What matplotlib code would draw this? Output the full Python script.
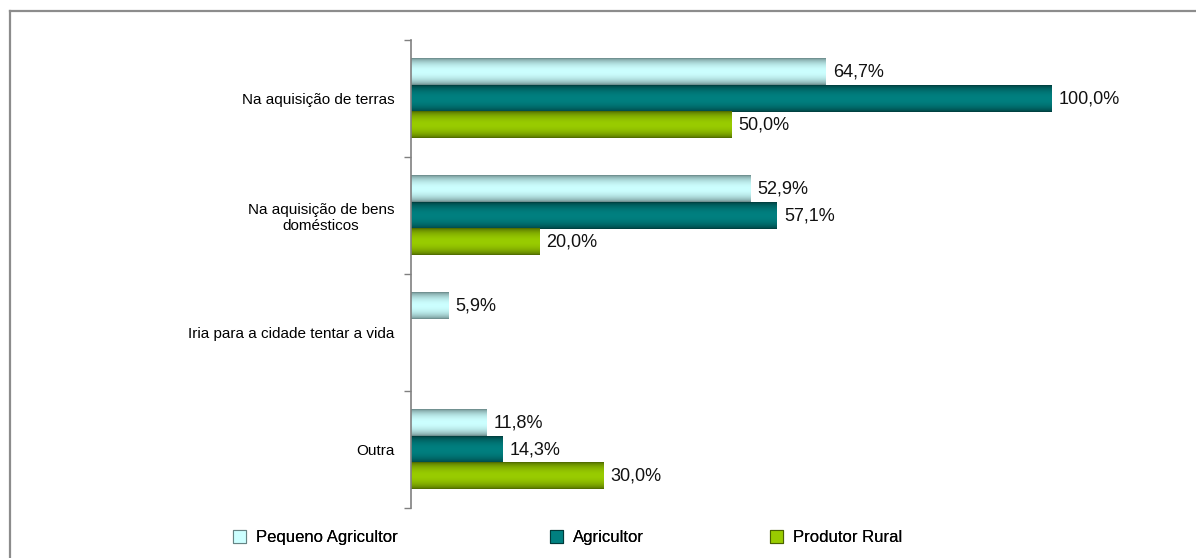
import numpy as np
import matplotlib
matplotlib.use("Agg")
import matplotlib.pyplot as plt
from matplotlib.colors import to_rgb
from matplotlib.lines import Line2D
from matplotlib.patches import Patch

plt.rcParams["font.family"] = ["Liberation Sans", "DejaVu Sans"]

categories = [
    "Na aquisição de terras",
    "Na aquisição de bens\ndomésticos",
    "Iria para a cidade tentar a vida",
    "Outra",
]
series_names = ["Pequeno Agricultor", "Agricultor", "Produtor Rural"]
pequeno = [64.7, 52.9, 5.9, 11.8]
agricultor = [100.0, 57.1, None, 14.3]
produtor = [50.0, 20.0, None, 30.0]

# (edge colour, centre colour) for the cylinder-like shading
shades = [("#668484", "#ccffff"), ("#003a3a", "#008080"), ("#4a6300", "#99cc00")]


def gradient(edge, centre, n=64):
    t = np.linspace(0, 1, n)
    f = np.sin(np.pi * t) ** 0.6
    e, c = np.array(to_rgb(edge)), np.array(to_rgb(centre))
    return (e[None, :] + (c - e)[None, :] * f[:, None])[:, None, :]


fig = plt.figure(figsize=(11.96, 5.58), dpi=100)
ax = fig.add_axes([0.3436, 0.0896, 0.643, 0.8387])

bar_h = 0.224
y = np.arange(len(categories))
for k, vals in enumerate([pequeno, agricultor, produtor]):
    offs = (k - 1) * bar_h
    for i, v in enumerate(vals):
        if v is None:
            continue
        rect = ax.barh(y[i] + offs, v, height=bar_h, color="none")[0]
        x0, y0 = rect.get_x(), rect.get_y()
        ax.imshow(gradient(*shades[k]), extent=(x0, x0 + rect.get_width(), y0 + rect.get_height(), y0),
                  aspect="auto", interpolation="bilinear", zorder=2)
        ax.text(v + 1.1, y[i] + offs, f"{v:.1f}%".replace(".", ","), va="center", ha="left",
                fontsize=13, color="#111111")

ax.set_xlim(0, 120)
ax.set_ylim(len(categories) - 0.5, -0.5)
ax.set_yticks(np.arange(-0.5, len(categories), 1.0))
ax.set_yticklabels([])
ax.set_yticks(y, minor=True)
ax.set_yticklabels(categories, minor=True, fontsize=11, multialignment="center")
ax.tick_params(axis="y", which="major", length=5, color="#808080", width=1)
ax.tick_params(axis="y", which="minor", length=0, pad=12)
ax.set_xticks([])
for s in ["top", "right", "bottom"]:
    ax.spines[s].set_visible(False)
ax.spines["left"].set_color("#808080")
ax.spines["left"].set_linewidth(1.2)

# outer chart frame (only top and left are inside the picture)
fig.add_artist(Line2D([10 / 1196, 1.0], [1 - 11 / 558, 1 - 11 / 558], color="#8c8c8c", lw=1.6))
fig.add_artist(Line2D([10 / 1196, 10 / 1196], [0, 1 - 11 / 558], color="#8c8c8c", lw=1.6))

# one legend per entry, spaced like the reference
legend_x = [233 / 1196, 550 / 1196, 770 / 1196]
for k in range(3):
    h = Patch(facecolor=shades[k][1], edgecolor=shades[k][0], lw=0.8)
    leg = fig.legend([h], [series_names[k]], loc="center left", bbox_to_anchor=(legend_x[k], 0.037),
                     frameon=False, fontsize=12, handlelength=0.8, handleheight=0.8,
                     handletextpad=0.6, borderpad=0, borderaxespad=0)
    fig.add_artist(leg)

fig.savefig("out.png", dpi=100)
